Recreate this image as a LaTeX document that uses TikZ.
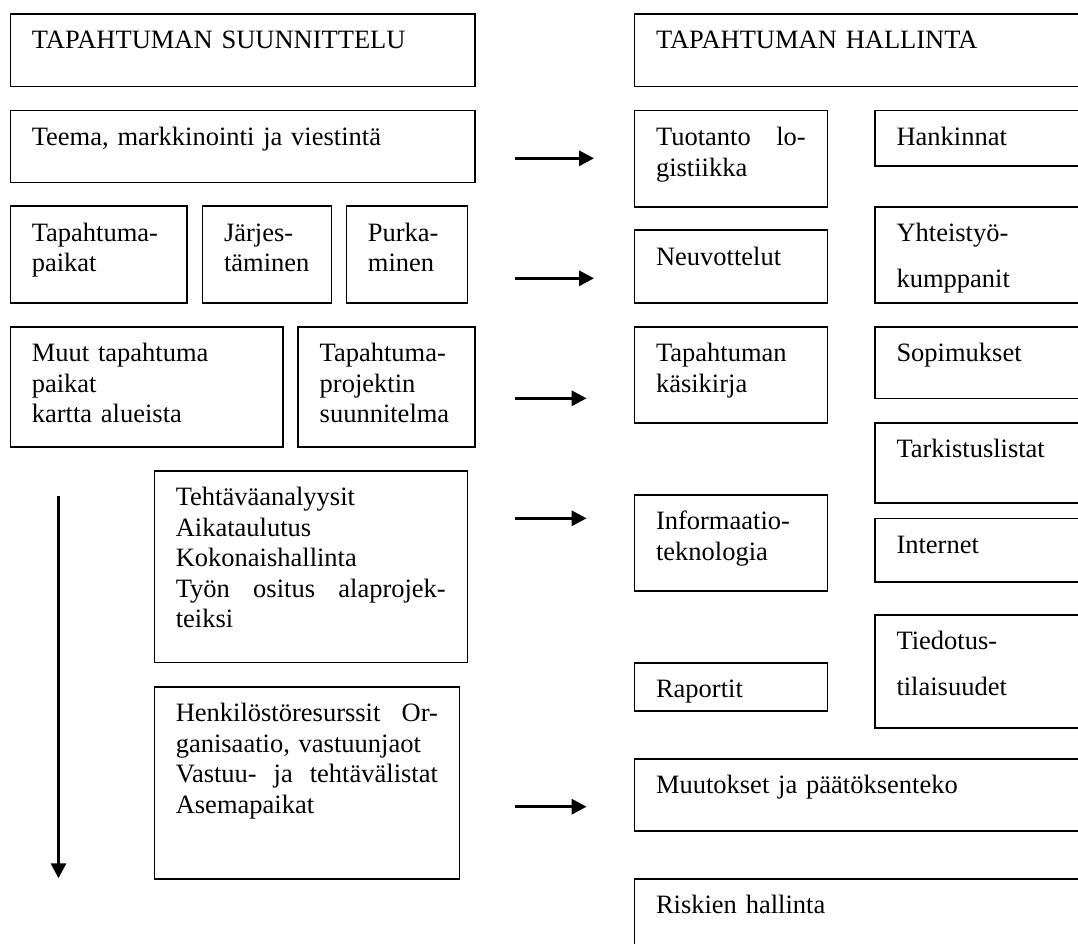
\documentclass[tikz,border=0pt]{standalone}
\usepackage{fontspec}
\setmainfont{Liberation Serif}
\usetikzlibrary{arrows.meta}
\newcommand\mybox[6]{%
  \pgfmathsetmacro\bw{#4-#2}%
  \pgfmathsetmacro\bh{#5-#3}%
  \pgfmathsetmacro\tw{#4-#2-43}%
  \node[boxst, minimum width=\bw pt, minimum height=\bh pt] (#1) at (#2,#3) {};
  \node[txt, text width=\tw pt] (#1t) at ([xshift=21.5pt,yshift=-14pt]#1.north west) {\rule{0pt}{21pt}#6};
}
\begin{document}
\begin{tikzpicture}[x=1pt,y=-1pt,
  font=\fontsize{26.5}{30.5}\selectfont,
  boxst/.style={draw, line width=1.6pt, rectangle, inner sep=0pt, outer sep=0pt, anchor=north west},
  txt/.style={anchor=north west, inner sep=0pt, outer sep=0pt, align=left},
  arr/.style={line width=3pt, -{Triangle[length=15pt,width=15pt]}}]
\useasboundingbox (0,0) rectangle (1078,944);
\clip (0,0) rectangle (1078,944);
% left column
\mybox{L1}{10.3}{14}{475.2}{86.7}{TAPAHTUMAN SUUNNITTELU}
\mybox{L2}{10.3}{110.7}{475.2}{182.7}{Teema, markkinointi ja viestintä}
\mybox{L3a}{10.3}{206}{187}{302.7}{Tapahtuma-\\paikat}
\mybox{L3b}{202.5}{206}{331.3}{302.7}{Järjes-\\täminen}
\mybox{L3c}{346.4}{206}{467.3}{302.7}{Purka-\\minen}
\mybox{L4a}{10.3}{326.7}{283}{446.7}{Muut tapahtuma\\paikat\\kartta alueista}
\mybox{L4b}{298.2}{326.7}{475.2}{446.7}{Tapahtuma-\\projektin\\suunnitelma}
\mybox{L5}{154.3}{470.7}{467.3}{662.5}{Tehtäväanalyysit\\Aikataulutus\\Kokonaishallinta\\Työn\hfill ositus\hfill alaprojek-\\teiksi}
\mybox{L6}{154.3}{686.7}{459.4}{879}{Henkilöstöresurssit\hfill Or-\\ganisaatio, vastuunjaot\\Vastuu-\hfill ja\hfill tehtävälistat\\Asemapaikat}
% right column
\mybox{R1}{634.5}{14}{1095}{86.7}{TAPAHTUMAN HALLINTA}
\mybox{R2}{634.5}{110.7}{827.3}{206.7}{Tuotanto\hfill lo-\\gistiikka}
\mybox{R3}{634.5}{230}{827.3}{302.7}{Neuvottelut}
\mybox{R4}{634.5}{326.7}{827.3}{422.7}{Tapahtuman\\käsikirja}
\mybox{R5}{634.5}{494.7}{827.3}{590.7}{Informaatio-\\teknologia}
\mybox{R6}{634.5}{662.7}{827.3}{711}{Raportit}
\mybox{S1}{875}{110.7}{1095}{166}{Hankinnat}
\mybox{S2}{875}{206.7}{1095}{302.7}{Yhteistyö-\\[14.8pt]kumppanit}
\mybox{S3}{875}{326.7}{1095}{398.3}{Sopimukset}
\mybox{S4}{875}{422.7}{1095}{502.7}{Tarkistuslistat}
\mybox{S5}{875}{518.3}{1095}{581.7}{Internet}
\mybox{S6}{875}{614.7}{1095}{727.7}{Tiedotus-\\[14.8pt]tilaisuudet}
\mybox{M1}{634.5}{758.7}{1095}{831}{Muutokset ja päätöksenteko}
\mybox{M2}{634.5}{878.7}{1095}{960}{Riskien hallinta}
% arrows
\coordinate (a1s) at (514.8,158.3); \coordinate (a1e) at (594,158.3);
\coordinate (a2s) at (514.8,278.3); \coordinate (a2e) at (594,278.3);
\coordinate (a3s) at (514.8,398.3); \coordinate (a3e) at (586.6,398.3);
\coordinate (a4s) at (514.8,518.3); \coordinate (a4e) at (586.6,518.3);
\coordinate (a5s) at (514.8,806.7); \coordinate (a5e) at (586.6,806.7);
\coordinate (vs) at (58.5,496); \coordinate (ve) at (58.5,878.3);
\draw[arr] (a1s) -- (a1e);
\draw[arr] (a2s) -- (a2e);
\draw[arr] (a3s) -- (a3e);
\draw[arr] (a4s) -- (a4e);
\draw[arr] (a5s) -- (a5e);
\draw[arr] (vs) -- (ve);
\end{tikzpicture}
\end{document}
